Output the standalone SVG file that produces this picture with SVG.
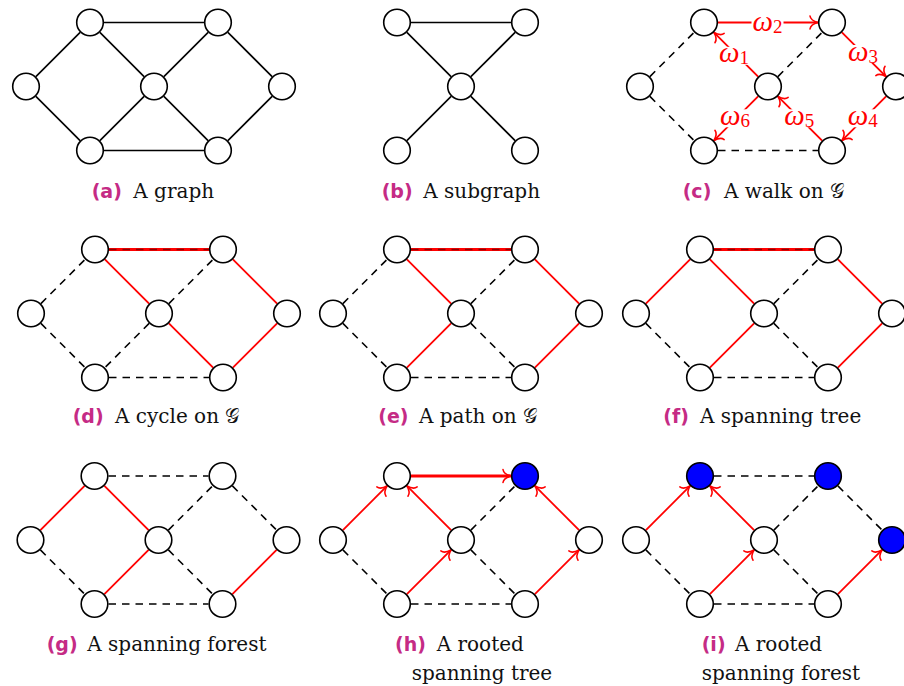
<svg xmlns="http://www.w3.org/2000/svg" width="904" height="686" viewBox="0 0 904 686">
<defs>
<style>
.n{fill:#fff;stroke:#000;stroke-width:1.6}
.root{fill:#0000ff}
.e{stroke:#000;stroke-width:1.6;fill:none}
.d{stroke:#000;stroke-width:1.6;stroke-dasharray:7.5 6;fill:none}
.r{stroke:#f00;stroke-width:1.8;fill:none}
.ra{stroke:#f00;stroke-width:1.8;fill:none;marker-end:url(#arr)}
.ro{stroke:#f00;stroke-width:3.2;fill:none}
.rod{stroke:#000;stroke-opacity:0.45;stroke-width:1.4;stroke-dasharray:7.5 6;fill:none}
.lab{font-family:"DejaVu Sans",sans-serif;font-weight:bold;font-size:19px;fill:#c52b85}
.cap{font-family:"DejaVu Serif",serif;font-size:20px;fill:#111}
.w{font-family:"Liberation Serif",serif;font-size:29px;fill:#f00}
.wb{fill:#fff}
</style>
<marker id="arr" markerUnits="userSpaceOnUse" markerWidth="20" markerHeight="20" refX="0" refY="0" orient="auto" overflow="visible">
<path d="M -8,-6.5 C -7.5,-3 -3,-0.8 0,0 C -3,0.8 -7.5,3 -8,6.5" fill="none" stroke="#f00" stroke-width="1.6" stroke-linecap="round"/>
</marker>
</defs>
<rect width="904" height="686" fill="#fff"/>

<!-- (a) -->
<g id="panel-a" transform="translate(26,22.5)">
<g id="a-edges">
<line class="e" x1="9.9" y1="54.1" x2="54.1" y2="9.9"/>
<line class="e" x1="9.9" y1="73.9" x2="54.1" y2="118.1"/>
<line class="e" x1="78" y1="0" x2="178" y2="0"/>
<line class="e" x1="73.9" y1="9.9" x2="118.1" y2="54.1"/>
<line class="e" x1="137.9" y1="54.1" x2="182.1" y2="9.9"/>
<line class="e" x1="118.1" y1="73.9" x2="73.9" y2="118.1"/>
<line class="e" x1="137.9" y1="73.9" x2="182.1" y2="118.1"/>
<line class="e" x1="201.9" y1="9.9" x2="246.1" y2="54.1"/>
<line class="e" x1="246.1" y1="73.9" x2="201.9" y2="118.1"/>
<line class="e" x1="78" y1="128" x2="178" y2="128"/>
</g>
<g id="a-L"><circle class="n" cx="0" cy="64" r="13.3"/></g>
<g id="a-TL"><circle class="n" cx="64" cy="0" r="13.3"/></g>
<g id="a-C"><circle class="n" cx="128" cy="64" r="13.3"/></g>
<g id="a-TR"><circle class="n" cx="192" cy="0" r="13.3"/></g>
<g id="a-R"><circle class="n" cx="256" cy="64" r="13.3"/></g>
<g id="a-BL"><circle class="n" cx="64" cy="128" r="13.3"/></g>
<g id="a-BR"><circle class="n" cx="192" cy="128" r="13.3"/></g>
</g>
<text class="cap" y="198.3"><tspan class="lab" x="91.7">(a)</tspan><tspan x="133.3">A graph</tspan></text>

<!-- (b) -->
<g id="panel-b" transform="translate(333,22.5)">
<g id="b-edges">
<line class="e" x1="78" y1="0" x2="178" y2="0"/>
<line class="e" x1="73.9" y1="9.9" x2="118.1" y2="54.1"/>
<line class="e" x1="137.9" y1="54.1" x2="182.1" y2="9.9"/>
<line class="e" x1="118.1" y1="73.9" x2="73.9" y2="118.1"/>
<line class="e" x1="137.9" y1="73.9" x2="182.1" y2="118.1"/>
</g>
<g id="b-TL"><circle class="n" cx="64" cy="0" r="13.3"/></g>
<g id="b-C"><circle class="n" cx="128" cy="64" r="13.3"/></g>
<g id="b-TR"><circle class="n" cx="192" cy="0" r="13.3"/></g>
<g id="b-BL"><circle class="n" cx="64" cy="128" r="13.3"/></g>
<g id="b-BR"><circle class="n" cx="192" cy="128" r="13.3"/></g>
</g>
<text class="cap" y="198.3"><tspan class="lab" x="381.7">(b)</tspan><tspan x="423.3">A subgraph</tspan></text>

<!-- (c) -->
<g id="panel-c" transform="translate(640,22.5)">
<g id="c-edges">
<line class="d" x1="9.9" y1="54.1" x2="54.1" y2="9.9"/>
<line class="d" x1="9.9" y1="73.9" x2="54.1" y2="118.1"/>
<line class="d" x1="137.9" y1="54.1" x2="182.1" y2="9.9"/>
<line class="d" x1="78" y1="128" x2="178" y2="128"/>
<line class="ra" x1="78" y1="0" x2="178" y2="0"/>
<line class="ra" x1="201.9" y1="9.9" x2="246.1" y2="54.1"/>
<line class="ra" x1="246.1" y1="73.9" x2="201.9" y2="118.1"/>
<line class="ra" x1="182.1" y1="118.1" x2="137.9" y2="73.9"/>
<line class="ra" x1="118.1" y1="73.9" x2="73.9" y2="118.1"/>
<line class="ra" x1="118.1" y1="54.1" x2="73.9" y2="9.9"/>
<g id="c-labels">
<rect class="wb" x="78" y="24.3" width="32" height="18"/>
<text class="w" x="94" y="39.5" text-anchor="middle"><tspan font-style="italic">ω</tspan><tspan font-size="19" dy="2">1</tspan></text>
<rect class="wb" x="111.5" y="-7.5" width="32" height="18"/>
<text class="w" x="127.5" y="8" text-anchor="middle"><tspan font-style="italic">ω</tspan><tspan font-size="19" dy="2">2</tspan></text>
<rect class="wb" x="207" y="22.5" width="32" height="18"/>
<text class="w" x="223" y="38" text-anchor="middle"><tspan font-style="italic">ω</tspan><tspan font-size="19" dy="2">3</tspan></text>
<rect class="wb" x="206.7" y="86.8" width="32" height="18"/>
<text class="w" x="222.7" y="102" text-anchor="middle"><tspan font-style="italic">ω</tspan><tspan font-size="19" dy="2">4</tspan></text>
<rect class="wb" x="143.3" y="86.8" width="32" height="18"/>
<text class="w" x="159.3" y="102" text-anchor="middle"><tspan font-style="italic">ω</tspan><tspan font-size="19" dy="2">5</tspan></text>
<rect class="wb" x="79" y="86.8" width="32" height="18"/>
<text class="w" x="95" y="102" text-anchor="middle"><tspan font-style="italic">ω</tspan><tspan font-size="19" dy="2">6</tspan></text>
</g>
</g>
<g id="c-L"><circle class="n" cx="0" cy="64" r="13.3"/></g>
<g id="c-TL"><circle class="n" cx="64" cy="0" r="13.3"/></g>
<g id="c-C"><circle class="n" cx="128" cy="64" r="13.3"/></g>
<g id="c-TR"><circle class="n" cx="192" cy="0" r="13.3"/></g>
<g id="c-R"><circle class="n" cx="256" cy="64" r="13.3"/></g>
<g id="c-BL"><circle class="n" cx="64" cy="128" r="13.3"/></g>
<g id="c-BR"><circle class="n" cx="192" cy="128" r="13.3"/></g>
</g>
<text class="cap" y="198.3"><tspan class="lab" x="682.7">(c)</tspan><tspan x="724">A walk on 𝒢</tspan></text>

<!-- (d) -->
<g id="panel-d" transform="translate(31,249.5)">
<g id="d-edges">
<line class="d" x1="9.9" y1="54.1" x2="54.1" y2="9.9"/>
<line class="d" x1="9.9" y1="73.9" x2="54.1" y2="118.1"/>
<line class="d" x1="137.9" y1="54.1" x2="182.1" y2="9.9"/>
<line class="d" x1="118.1" y1="73.9" x2="73.9" y2="118.1"/>
<line class="d" x1="78" y1="128" x2="178" y2="128"/>
<line class="ro" x1="78" y1="0" x2="178" y2="0"/>
<line class="rod" x1="78" y1="0" x2="178" y2="0"/>
<line class="r" x1="73.9" y1="9.9" x2="118.1" y2="54.1"/>
<line class="r" x1="137.9" y1="73.9" x2="182.1" y2="118.1"/>
<line class="r" x1="246.1" y1="73.9" x2="201.9" y2="118.1"/>
<line class="r" x1="201.9" y1="9.9" x2="246.1" y2="54.1"/>
</g>
<g id="d-L"><circle class="n" cx="0" cy="64" r="13.3"/></g>
<g id="d-TL"><circle class="n" cx="64" cy="0" r="13.3"/></g>
<g id="d-C"><circle class="n" cx="128" cy="64" r="13.3"/></g>
<g id="d-TR"><circle class="n" cx="192" cy="0" r="13.3"/></g>
<g id="d-R"><circle class="n" cx="256" cy="64" r="13.3"/></g>
<g id="d-BL"><circle class="n" cx="64" cy="128" r="13.3"/></g>
<g id="d-BR"><circle class="n" cx="192" cy="128" r="13.3"/></g>
</g>
<text class="cap" y="422.5"><tspan class="lab" x="72.7">(d)</tspan><tspan x="115">A cycle on 𝒢</tspan></text>

<!-- (e) -->
<g id="panel-e" transform="translate(333,249.5)">
<g id="e-edges">
<line class="d" x1="9.9" y1="54.1" x2="54.1" y2="9.9"/>
<line class="d" x1="9.9" y1="73.9" x2="54.1" y2="118.1"/>
<line class="d" x1="137.9" y1="54.1" x2="182.1" y2="9.9"/>
<line class="d" x1="137.9" y1="73.9" x2="182.1" y2="118.1"/>
<line class="d" x1="78" y1="128" x2="178" y2="128"/>
<line class="ro" x1="78" y1="0" x2="178" y2="0"/>
<line class="rod" x1="78" y1="0" x2="178" y2="0"/>
<line class="r" x1="73.9" y1="9.9" x2="118.1" y2="54.1"/>
<line class="r" x1="118.1" y1="73.9" x2="73.9" y2="118.1"/>
<line class="r" x1="201.9" y1="9.9" x2="246.1" y2="54.1"/>
<line class="r" x1="246.1" y1="73.9" x2="201.9" y2="118.1"/>
</g>
<g id="e-L"><circle class="n" cx="0" cy="64" r="13.3"/></g>
<g id="e-TL"><circle class="n" cx="64" cy="0" r="13.3"/></g>
<g id="e-C"><circle class="n" cx="128" cy="64" r="13.3"/></g>
<g id="e-TR"><circle class="n" cx="192" cy="0" r="13.3"/></g>
<g id="e-R"><circle class="n" cx="256" cy="64" r="13.3"/></g>
<g id="e-BL"><circle class="n" cx="64" cy="128" r="13.3"/></g>
<g id="e-BR"><circle class="n" cx="192" cy="128" r="13.3"/></g>
</g>
<text class="cap" y="422.5"><tspan class="lab" x="378.3">(e)</tspan><tspan x="419">A path on 𝒢</tspan></text>

<!-- (f) -->
<g id="panel-f" transform="translate(636,249.5)">
<g id="f-edges">
<line class="d" x1="9.9" y1="73.9" x2="54.1" y2="118.1"/>
<line class="d" x1="137.9" y1="54.1" x2="182.1" y2="9.9"/>
<line class="d" x1="137.9" y1="73.9" x2="182.1" y2="118.1"/>
<line class="d" x1="78" y1="128" x2="178" y2="128"/>
<line class="ro" x1="78" y1="0" x2="178" y2="0"/>
<line class="rod" x1="78" y1="0" x2="178" y2="0"/>
<line class="r" x1="9.9" y1="54.1" x2="54.1" y2="9.9"/>
<line class="r" x1="73.9" y1="9.9" x2="118.1" y2="54.1"/>
<line class="r" x1="118.1" y1="73.9" x2="73.9" y2="118.1"/>
<line class="r" x1="201.9" y1="9.9" x2="246.1" y2="54.1"/>
<line class="r" x1="246.1" y1="73.9" x2="201.9" y2="118.1"/>
</g>
<g id="f-L"><circle class="n" cx="0" cy="64" r="13.3"/></g>
<g id="f-TL"><circle class="n" cx="64" cy="0" r="13.3"/></g>
<g id="f-C"><circle class="n" cx="128" cy="64" r="13.3"/></g>
<g id="f-TR"><circle class="n" cx="192" cy="0" r="13.3"/></g>
<g id="f-R"><circle class="n" cx="256" cy="64" r="13.3"/></g>
<g id="f-BL"><circle class="n" cx="64" cy="128" r="13.3"/></g>
<g id="f-BR"><circle class="n" cx="192" cy="128" r="13.3"/></g>
</g>
<text class="cap" y="422.5"><tspan class="lab" x="663.3">(f)</tspan><tspan x="700">A spanning tree</tspan></text>

<!-- (g) -->
<g id="panel-g" transform="translate(30.5,476)">
<g id="g-edges">
<line class="d" x1="78" y1="0" x2="178" y2="0"/>
<line class="d" x1="137.9" y1="54.1" x2="182.1" y2="9.9"/>
<line class="d" x1="201.9" y1="9.9" x2="246.1" y2="54.1"/>
<line class="d" x1="9.9" y1="73.9" x2="54.1" y2="118.1"/>
<line class="d" x1="137.9" y1="73.9" x2="182.1" y2="118.1"/>
<line class="d" x1="78" y1="128" x2="178" y2="128"/>
<line class="r" x1="9.9" y1="54.1" x2="54.1" y2="9.9"/>
<line class="r" x1="73.9" y1="9.9" x2="118.1" y2="54.1"/>
<line class="r" x1="118.1" y1="73.9" x2="73.9" y2="118.1"/>
<line class="r" x1="246.1" y1="73.9" x2="201.9" y2="118.1"/>
</g>
<g id="g-L"><circle class="n" cx="0" cy="64" r="13.3"/></g>
<g id="g-TL"><circle class="n" cx="64" cy="0" r="13.3"/></g>
<g id="g-C"><circle class="n" cx="128" cy="64" r="13.3"/></g>
<g id="g-TR"><circle class="n" cx="192" cy="0" r="13.3"/></g>
<g id="g-R"><circle class="n" cx="256" cy="64" r="13.3"/></g>
<g id="g-BL"><circle class="n" cx="64" cy="128" r="13.3"/></g>
<g id="g-BR"><circle class="n" cx="192" cy="128" r="13.3"/></g>
</g>
<text class="cap" y="651"><tspan class="lab" x="46.7">(g)</tspan><tspan x="87.3">A spanning forest</tspan></text>

<!-- (h) -->
<g id="panel-h" transform="translate(333,476)">
<g id="h-edges">
<line class="d" x1="137.9" y1="54.1" x2="182.1" y2="9.9"/>
<line class="d" x1="9.9" y1="73.9" x2="54.1" y2="118.1"/>
<line class="d" x1="137.9" y1="73.9" x2="182.1" y2="118.1"/>
<line class="d" x1="78" y1="128" x2="178" y2="128"/>
<line class="ro" x1="78" y1="0" x2="178" y2="0"/>
<line class="rod" x1="78" y1="0" x2="178" y2="0"/>
<line class="ra" x1="78" y1="0" x2="178" y2="0"/>
<line class="ra" x1="9.9" y1="54.1" x2="54.1" y2="9.9"/>
<line class="ra" x1="118.1" y1="54.1" x2="73.9" y2="9.9"/>
<line class="ra" x1="73.9" y1="118.1" x2="118.1" y2="73.9"/>
<line class="ra" x1="201.9" y1="118.1" x2="246.1" y2="73.9"/>
<line class="ra" x1="246.1" y1="54.1" x2="201.9" y2="9.9"/>
</g>
<g id="h-L"><circle class="n" cx="0" cy="64" r="13.3"/></g>
<g id="h-TL"><circle class="n" cx="64" cy="0" r="13.3"/></g>
<g id="h-C"><circle class="n" cx="128" cy="64" r="13.3"/></g>
<g id="h-TR"><circle class="n root" cx="192" cy="0" r="13.3"/></g>
<g id="h-R"><circle class="n" cx="256" cy="64" r="13.3"/></g>
<g id="h-BL"><circle class="n" cx="64" cy="128" r="13.3"/></g>
<g id="h-BR"><circle class="n" cx="192" cy="128" r="13.3"/></g>
</g>
<text class="cap" y="651"><tspan class="lab" x="395">(h)</tspan><tspan x="436.7">A rooted</tspan><tspan x="411.7" y="680">spanning tree</tspan></text>

<!-- (i) -->
<g id="panel-i" transform="translate(636,476)">
<g id="i-edges">
<line class="d" x1="78" y1="0" x2="178" y2="0"/>
<line class="d" x1="137.9" y1="54.1" x2="182.1" y2="9.9"/>
<line class="d" x1="201.9" y1="9.9" x2="246.1" y2="54.1"/>
<line class="d" x1="9.9" y1="73.9" x2="54.1" y2="118.1"/>
<line class="d" x1="137.9" y1="73.9" x2="182.1" y2="118.1"/>
<line class="d" x1="78" y1="128" x2="178" y2="128"/>
<line class="ra" x1="9.9" y1="54.1" x2="54.1" y2="9.9"/>
<line class="ra" x1="118.1" y1="54.1" x2="73.9" y2="9.9"/>
<line class="ra" x1="73.9" y1="118.1" x2="118.1" y2="73.9"/>
<line class="ra" x1="201.9" y1="118.1" x2="246.1" y2="73.9"/>
</g>
<g id="i-L"><circle class="n" cx="0" cy="64" r="13.3"/></g>
<g id="i-TL"><circle class="n root" cx="64" cy="0" r="13.3"/></g>
<g id="i-C"><circle class="n" cx="128" cy="64" r="13.3"/></g>
<g id="i-TR"><circle class="n root" cx="192" cy="0" r="13.3"/></g>
<g id="i-R"><circle class="n root" cx="256" cy="64" r="13.3"/></g>
<g id="i-BL"><circle class="n" cx="64" cy="128" r="13.3"/></g>
<g id="i-BR"><circle class="n" cx="192" cy="128" r="13.3"/></g>
</g>
<text class="cap" y="651"><tspan class="lab" x="701.7">(i)</tspan><tspan x="735">A rooted</tspan><tspan x="701.7" y="680">spanning forest</tspan></text>
</svg>
